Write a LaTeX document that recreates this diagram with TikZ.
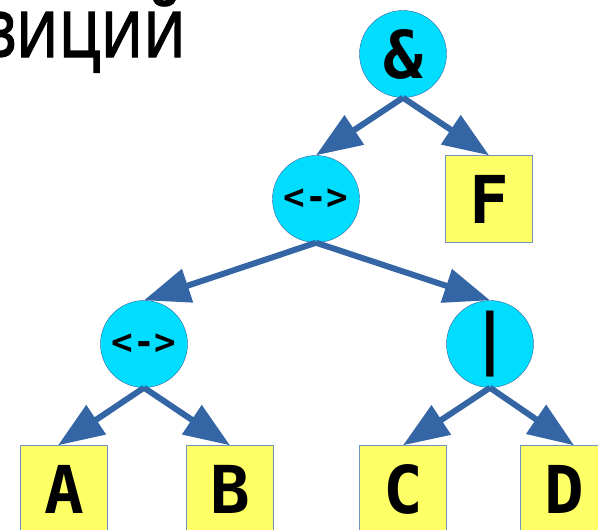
\documentclass[tikz,border=0pt]{standalone}
\usepackage{fontspec}
\setmainfont{Open Sans}
\newfontfamily\titlefont[FakeBold=1.6]{Open Sans}
\newfontfamily\treefont{DejaVu Sans Mono}
\usepackage{xcolor}
\usetikzlibrary{positioning,
	arrows.meta}
\definecolor{edgeblue}{HTML}{3465A4}
\definecolor{opcyan}{HTML}{00DDFF}
\definecolor{varyellow}{HTML}{FFFF66}

\begin{document}
\begin{tikzpicture}[x=1pt, y=1pt, on grid,
		op/.style={circle, draw=edgeblue, fill=opcyan, minimum size=87pt, inner sep=0pt,
			font=\treefont\bfseries\fontsize{66}{66}\selectfont},
		small op/.style={op, font=\treefont\bfseries\fontsize{36}{36}\selectfont},
		var/.style={rectangle, draw=edgeblue!70, fill=varyellow, minimum size=87pt, inner sep=0pt,
			font=\treefont\bfseries\fontsize{66}{66}\selectfont},
		edge/.style={edgeblue, line width=6pt, -{Triangle[length=46pt, width=34pt]}}]
	\useasboundingbox (0,0) rectangle (598,-530);
	\node [anchor=base east, inner sep=0pt, font=\titlefont\fontsize{84}{84}\selectfont] (title) at (186,-57)
		{\scalebox{0.8}[1]{виций}};
	% operators
	\node [op] (and) at (403,-54) {\&};
	\node [small op, below left=145pt and 87pt of and] (eqv) {<->};
	\node [var, below right=145pt and 86pt of and] (f) {F};
	\node [small op, below left=145pt and 172pt of eqv] (eqvlow) {<->};
	\node [op, below right=145pt and 174pt of eqv] (or) {|};
	% leaves
	\node [var, below left=145pt and 80pt of eqvlow] (a) {A};
	\node [var, below right=145pt and 86pt of eqvlow] (b) {B};
	\node [var, below left=145pt and 87pt of or] (c) {C};
	\node [var, below right=145pt and 74pt of or] (d) {D};
	\draw [edge] (and.south) -- (eqv.north);
	\draw [edge] (and.south) -- (f.north);
	\draw [edge] (eqv.south) -- (eqvlow.north);
	\draw [edge] (eqv.south) -- (or.north);
	\draw [edge] (eqvlow.south) -- ([xshift=-6pt]a.north);
	\draw [edge] (eqvlow.south) -- (b.north);
	\draw [edge] (or.south) -- (c.north);
	\draw [edge] (or.south) -- ([xshift=10pt]d.north);
\end{tikzpicture}
\end{document}
